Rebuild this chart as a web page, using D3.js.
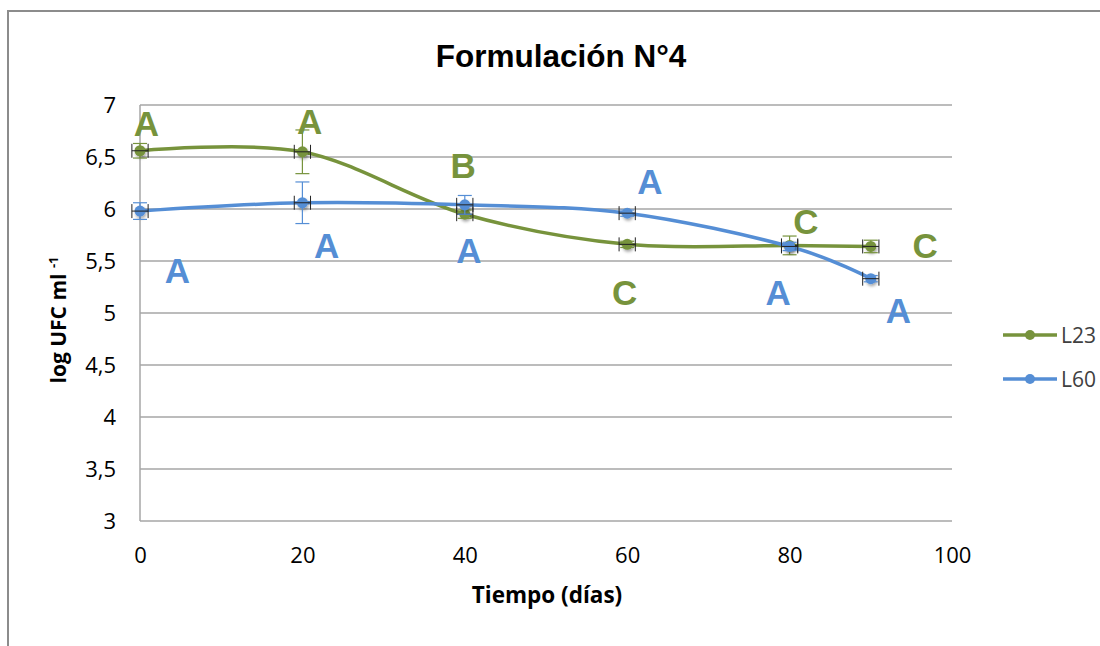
<!DOCTYPE html>
<html>
<head>
<meta charset="utf-8">
<script src="https://cdnjs.cloudflare.com/ajax/libs/d3/7.8.5/d3.min.js"></script>
<style>
body { margin: 0; background: #fff; }
svg text { font-family: "Open Sans", sans-serif; }
</style>
</head>
<body>
<div id="chart"></div>
<script>
// data
var days = [0, 20, 40, 60, 80, 90];
var l23 = [6.56, 6.55, 5.95, 5.66, 5.65, 5.64];
var l60 = [5.98, 6.06, 6.04, 5.96, 5.64, 5.33];
var l23Err = [0.07, 0.21, 0.04, 0.03, 0.09, 0.06];
var l60Err = [0.08, 0.20, 0.09, 0.03, 0.04, 0.03];
var dayErr = 1;
var xTicks = [0, 20, 40, 60, 80, 100];
var yTicks = [3, 3.5, 4, 4.5, 5, 5.5, 6, 6.5, 7];

// letter marks (x in days, y in log units of the baseline)
var l23Letters = ["A", "A", "B", "C", "C", "C"];
var l23LetterX = [0.8, 20.9, 39.8, 59.7, 82.0, 96.7];
var l23LetterY = [6.70, 6.72, 6.30, 5.08, 5.76, 5.53];
var l60Letters = ["A", "A", "A", "A", "A", "A"];
var l60LetterX = [4.6, 23.0, 40.5, 62.8, 78.6, 93.4];
var l60LetterY = [5.29, 5.53, 5.48, 6.14, 5.08, 4.90];

var green = "#77933C";
var blue = "#558ED5";

var width = 1100, height = 646;
var svg = d3.select("#chart").append("svg")
    .attr("width", width)
    .attr("height", height);

var defs = svg.append("defs");
var shadow = defs.append("filter").attr("id", "shadow")
    .attr("x", "-50%").attr("y", "-50%").attr("width", "200%").attr("height", "200%");
shadow.append("feDropShadow")
    .attr("dx", 1).attr("dy", 2).attr("stdDeviation", 1.5)
    .attr("flood-color", "#000").attr("flood-opacity", 0.35);

// outer frame (only left and top visible)
svg.append("path")
    .attr("d", "M8,646 L8,11 L1100,11")
    .attr("fill", "none")
    .attr("stroke", "#8c8c8c")
    .attr("stroke-width", 2);

var x = d3.scaleLinear().domain([0, 100]).range([140, 952]);
var y = d3.scaleLinear().domain([3, 7]).range([521, 105]);

// gridlines
svg.append("g").selectAll("line")
    .data(yTicks)
    .enter().append("line")
    .attr("x1", x(0)).attr("x2", x(100))
    .attr("y1", function (d) { return y(d); })
    .attr("y2", function (d) { return y(d); })
    .attr("stroke", "#a6a6a6")
    .attr("stroke-width", 1.5);

svg.append("line")
    .attr("x1", x(0)).attr("x2", x(0))
    .attr("y1", y(3)).attr("y2", y(7))
    .attr("stroke", "#a6a6a6")
    .attr("stroke-width", 1.5);

// axes (labels only)
var yAxis = d3.axisLeft(y).tickValues(yTicks).tickSize(0).tickPadding(24)
    .tickFormat(function (d) { return String(d).replace(".", ","); });
var yG = svg.append("g").attr("transform", "translate(" + x(0) + ",0)").call(yAxis);
yG.select(".domain").remove();
yG.selectAll("text").attr("font-size", 22).attr("fill", "#000")
    .style("font-family", "'Open Sans', sans-serif");

var xAxis = d3.axisBottom(x).tickValues(xTicks).tickSize(0).tickPadding(26);
var xG = svg.append("g").attr("transform", "translate(0," + y(3) + ")").call(xAxis);
xG.select(".domain").remove();
xG.selectAll("text").attr("font-size", 22).attr("fill", "#000")
    .style("font-family", "'Open Sans', sans-serif");

// titles
svg.append("text")
    .attr("x", 561).attr("y", 67)
    .attr("text-anchor", "middle")
    .style("font-family", "'Liberation Sans', Arial, sans-serif")
    .style("font-weight", "bold")
    .style("font-size", "31.5px")
    .text("Formulación N°4");

svg.append("text")
    .attr("x", 547).attr("y", 603)
    .attr("text-anchor", "middle")
    .style("font-weight", "bold")
    .style("font-size", "22.5px")
    .text("Tiempo (días)");

var yTitle = svg.append("text")
    .attr("transform", "translate(66,320) rotate(-90)")
    .attr("text-anchor", "middle")
    .style("font-weight", "bold")
    .style("font-size", "21px");
yTitle.append("tspan").text("log UFC ml ");
yTitle.append("tspan").attr("dy", -8).style("font-size", "13px").text("-1");

var line = d3.line()
    .x(function (d) { return x(d[0]); })
    .y(function (d) { return y(d[1]); })
    .curve(d3.curveCardinal.tension(0));

function drawSeries(vals, errs, color) {
    var pts = days.map(function (d, i) { return [d, vals[i], errs[i]]; });
    var g = svg.append("g");

    g.append("path")
        .datum(pts)
        .attr("d", line)
        .attr("fill", "none")
        .attr("stroke", color)
        .attr("stroke-width", 3.5);

    g.selectAll("circle")
        .data(pts)
        .enter().append("circle")
        .attr("cx", function (d) { return x(d[0]); })
        .attr("cy", function (d) { return y(d[1]); })
        .attr("r", 5.5)
        .attr("fill", color)
        .attr("filter", "url(#shadow)");

    // vertical error bars
    var ve = g.selectAll(".verr").data(pts).enter().append("g");
    ve.append("line")
        .attr("x1", function (d) { return x(d[0]); })
        .attr("x2", function (d) { return x(d[0]); })
        .attr("y1", function (d) { return y(d[1] - d[2]); })
        .attr("y2", function (d) { return y(d[1] + d[2]); })
        .attr("stroke", color).attr("stroke-width", 1.2);
    [-1, 1].forEach(function (s) {
        ve.append("line")
            .attr("x1", function (d) { return x(d[0]) - 7; })
            .attr("x2", function (d) { return x(d[0]) + 7; })
            .attr("y1", function (d) { return y(d[1] + s * d[2]); })
            .attr("y2", function (d) { return y(d[1] + s * d[2]); })
            .attr("stroke", color).attr("stroke-width", 1.2);
    });

    // horizontal error bars
    var he = g.selectAll(".herr").data(pts).enter().append("g");
    he.append("line")
        .attr("x1", function (d) { return x(d[0] - dayErr); })
        .attr("x2", function (d) { return x(d[0] + dayErr); })
        .attr("y1", function (d) { return y(d[1]); })
        .attr("y2", function (d) { return y(d[1]); })
        .attr("stroke", "#222").attr("stroke-width", 1);
    [-1, 1].forEach(function (s) {
        he.append("line")
            .attr("x1", function (d) { return x(d[0] + s * dayErr); })
            .attr("x2", function (d) { return x(d[0] + s * dayErr); })
            .attr("y1", function (d) { return y(d[1]) - 7; })
            .attr("y2", function (d) { return y(d[1]) + 7; })
            .attr("stroke", "#222").attr("stroke-width", 1);
    });
}

drawSeries(l23, l23Err, green);
drawSeries(l60, l60Err, blue);

function drawLetters(letters, lx, ly, color) {
    svg.append("g").selectAll("text")
        .data(letters)
        .enter().append("text")
        .attr("x", function (d, i) { return x(lx[i]); })
        .attr("y", function (d, i) { return y(ly[i]); })
        .attr("text-anchor", "middle")
        .style("font-family", "'Liberation Sans', Arial, sans-serif")
        .style("font-weight", "bold")
        .style("font-size", "35px")
        .attr("fill", color)
        .text(function (d) { return d; });
}
drawLetters(l23Letters, l23LetterX, l23LetterY, green);
drawLetters(l60Letters, l60LetterX, l60LetterY, blue);

// legend
var legendNames = ["L23", "L60"];
var legendColors = [green, blue];
var legend = svg.selectAll(".legend")
    .data(legendNames)
    .enter().append("g")
    .attr("class", "legend")
    .attr("transform", function (d, i) { return "translate(1003," + (335 + i * 44) + ")"; });
legend.append("line")
    .attr("x1", 0).attr("x2", 54)
    .attr("stroke", function (d, i) { return legendColors[i]; })
    .attr("stroke-width", 3.5);
legend.append("circle")
    .attr("cx", 27).attr("r", 5)
    .attr("fill", function (d, i) { return legendColors[i]; });
legend.append("text")
    .attr("x", 58).attr("y", 8)
    .style("font-size", "21px")
    .attr("fill", "#404040")
    .text(function (d) { return d; });
</script>
</body>
</html>
